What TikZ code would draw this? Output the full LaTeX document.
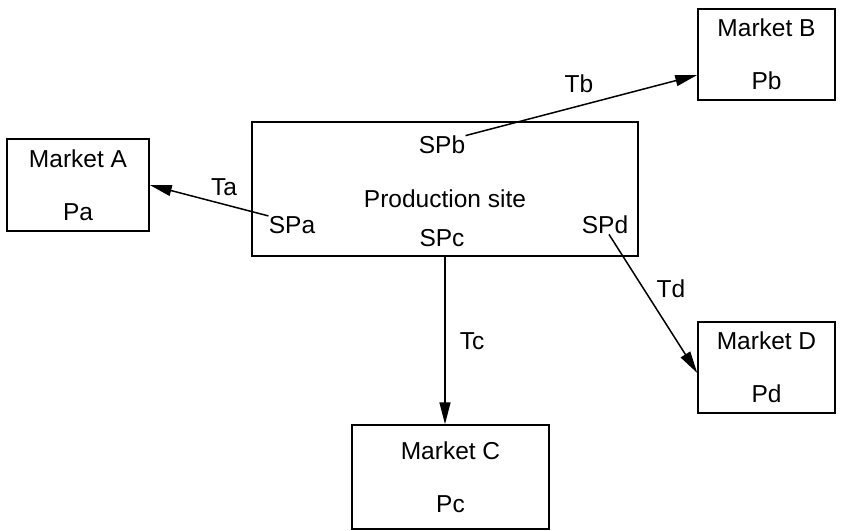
\documentclass[tikz,border=0pt]{standalone}
\usepackage{fontspec}
\setmainfont{Liberation Sans}
\usetikzlibrary{arrows.meta}

\begin{document}
\begin{tikzpicture}[x=0.5pt,y=-0.5pt,
	every node/.style={font=\fontsize{12.25}{14.7}\selectfont},
	market/.style={draw,line width=0.75pt,align=center,inner sep=0pt,minimum width=68.5pt,minimum height=45.5pt},
	splabel/.style={inner sep=0pt},
	flow/.style={line width=0.75pt,-{Triangle[length=11pt,width=5.5pt]}}]

	\useasboundingbox (0,0) rectangle (843,531);

	% production site and its outlets
	\node[draw,line width=0.75pt,minimum width=193pt,minimum height=67pt] (ps) at (445,189) {};
	\node[yshift=-4.8pt] (pstext) at (ps) {Production site};
	\node[splabel] (spa) at (292,225) {SPa};
	\node[splabel] (spb) at (442,145) {SPb};
	\node[splabel] (spc) at (442,238) {SPc};
	\node[splabel] (spd) at (605,225) {SPd};

	% markets
	\node[market,minimum width=71pt,minimum height=46pt] (ma) at (78,185) {Market A\\[11.8pt]Pa};
	\node[market] (mb) at (766.5,54.5) {Market B\\[11.8pt]Pb};
	\node[market,minimum width=98.5pt,minimum height=52pt] (mc) at (450.5,477) {Market C\\[11.8pt]Pc};
	\node[market] (md) at (766.5,367.5) {Market D\\[11.8pt]Pd};

	% transport
	\draw[flow] (spa.north west) -- (ma.east);
	\draw[flow] (spb.north east) -- ([yshift=-10.25pt]mb.west);
	\draw[flow] (ps.south) -- (ps.south |- mc.north);
	\draw[flow] ([xshift=2pt]spd.south) -- ([yshift=-2.75pt]md.west);

	\node (ta) at (224,187) {Ta};
	\node (tb) at (579,84) {Tb};
	\node (tc) at (472,341) {Tc};
	\node (td) at (671,289) {Td};

\end{tikzpicture}
\end{document}
